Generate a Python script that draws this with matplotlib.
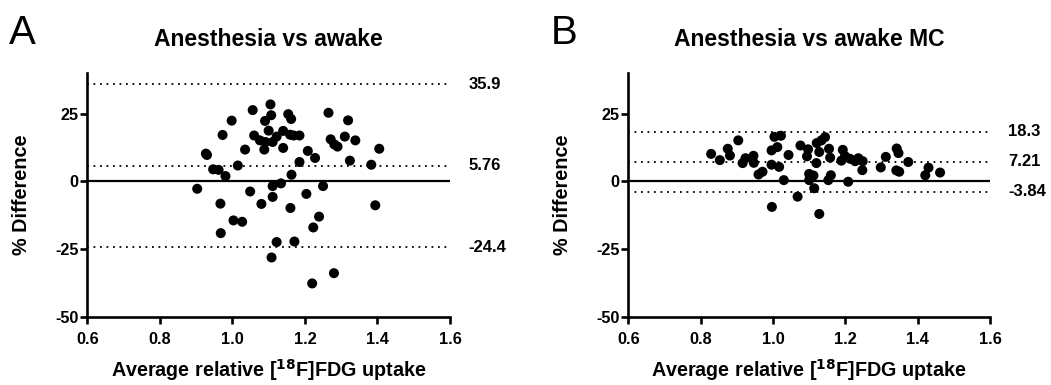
import matplotlib
matplotlib.use("Agg")
import matplotlib.pyplot as plt

plt.rcParams['font.family'] = ['Liberation Sans', 'DejaVu Sans']

# Panel A: Anesthesia vs awake
a_x = [0.903, 0.927, 0.930, 0.947, 0.962, 0.981, 0.967, 0.973, 0.998, 0.968,
       1.003, 1.027, 1.015, 1.035, 1.049, 1.056, 1.060, 1.080, 1.076, 1.088,
       1.090, 1.100, 1.105, 1.107, 1.111, 1.111, 1.111, 1.108, 1.122, 1.122,
       1.134, 1.140, 1.140, 1.154, 1.162, 1.159, 1.169, 1.185, 1.163, 1.160,
       1.171, 1.185, 1.204, 1.208, 1.228, 1.223, 1.220, 1.239, 1.250, 1.265,
       1.271, 1.281, 1.290, 1.280, 1.310, 1.319, 1.324, 1.339, 1.383, 1.394,
       1.405, 1.091]
a_y = [-2.7, 10.3, 9.8, 4.5, 4.3, 2.0, -8.2, 17.2, 22.5, -19.1,
       -14.4, -14.9, 5.9, 11.8, -3.7, 26.4, 17.0, -8.3, 15.2, 11.8,
       22.4, 18.8, 28.5, 24.5, 14.6, -1.7, -5.7, -28.1, -22.4, 16.6,
       -0.7, 18.7, 12.4, 24.9, 23.1, 17.3, 17.0, 17.0, 2.5, -9.8,
       -22.2, 7.2, -4.6, 11.3, 8.7, -17.0, -37.7, -13.0, -1.7, 25.4,
       15.6, 13.7, 12.9, -33.9, 16.6, 22.6, 7.7, 15.2, 6.2, -8.8,
       12.1, 14.6]
a_lines = [35.9, 5.76, -24.4]
a_labels = ["35.9", "5.76", "-24.4"]

# Panel B: Anesthesia vs awake MC
b_x = [0.829, 0.853, 0.875, 0.881, 0.904, 0.916, 0.924, 0.946, 0.947, 0.960,
       0.971, 0.996, 0.997, 0.996, 1.004, 1.012, 1.017, 1.022, 1.030, 1.043,
       1.068, 1.076, 1.094, 1.097, 1.100, 1.100, 1.112, 1.114, 1.120, 1.121,
       1.128, 1.128, 1.144, 1.134, 1.155, 1.158, 1.160, 1.153, 1.193, 1.189,
       1.199, 1.208, 1.213, 1.227, 1.236, 1.247, 1.248, 1.298, 1.312, 1.342,
       1.347, 1.341, 1.349, 1.374, 1.421, 1.430, 1.462]
b_y = [10.2, 7.9, 12.1, 9.6, 15.2, 6.8, 8.6, 9.5, 6.9, 2.6,
       3.6, 11.5, -9.4, 6.2, 16.5, 12.7, 5.4, 16.9, 0.5, 9.8,
       -5.6, 13.3, 9.3, 11.9, 2.8, 0.5, 2.2, -2.5, 6.8, 14.2,
       10.9, -12.0, 16.4, 15.2, 12.1, 8.8, 2.3, 0.5, 11.7, 7.7,
       9.4, -0.1, 8.4, 7.5, 8.6, 4.2, 7.5, 5.2, 9.1, 12.2,
       10.5, 4.1, 3.6, 7.2, 2.3, 5.1, 3.3]
b_lines = [18.3, 7.21, -3.84]
b_labels = ["18.3", "7.21", "-3.84"]

x_ticks = [0.6, 0.8, 1.0, 1.2, 1.4, 1.6]
x_ticklabels = ["0.6", "0.8", "1.0", "1.2", "1.4", "1.6"]
y_ticks = [-50, -25, 0, 25]
y_ticklabels = ["-50", "-25", "0", "25"]

W, H = 1051, 385
fig = plt.figure(figsize=(W / 100, H / 100), dpi=100)

panels = [
    (87.3, 450.0, "A", "Anesthesia vs awake", a_x, a_y, a_lines, a_labels),
    (628.3, 990.0, "B", "Anesthesia vs awake MC", b_x, b_y, b_lines, b_labels),
]
top_px, bot_px = 73.3, 316.7
aw = None

for (l, r, letter, title, xs, ys, lines, labels) in panels:
    aw = r - l
    ah = bot_px - top_px
    ax = fig.add_axes([l / W, 1 - bot_px / H, aw / W, ah / H])
    ax.set_xlim(0.6, 1.6)
    ax.set_ylim(-50, 40)
    for sp in ['top', 'right']:
        ax.spines[sp].set_visible(False)
    for sp in ['left', 'bottom']:
        ax.spines[sp].set_linewidth(1.9)
    ax.set_xticks(x_ticks)
    ax.set_xticklabels(x_ticklabels, fontweight='bold')
    ax.set_yticks(y_ticks)
    ax.set_yticklabels(y_ticklabels, fontweight='bold')
    ax.tick_params(axis='both', direction='out', length=5, width=1.9,
                   labelsize=11.7)
    ax.tick_params(axis='x', pad=6)
    ax.tick_params(axis='y', pad=1.5)
    ax.axhline(0, color='black', lw=1.6, zorder=1)
    for v, lab in zip(lines, labels):
        ax.plot([0.6, 1.6], [v, v], color='black', lw=1.3,
                linestyle=(0, (1, 2.6)), zorder=1, clip_on=False)
        ax.text(1.65, v, lab, fontsize=12, fontweight='bold',
                ha='left', va='center', clip_on=False)
    ax.scatter(xs, ys, s=52, color='black', edgecolors='none', zorder=3,
               clip_on=False)
    ax.set_xlabel("Average relative [$^{\\mathbf{18}}$F]FDG uptake",
                  fontsize=14.2, fontweight='bold')
    ax.xaxis.set_label_coords(0.5, (316.7 - 357) / ah)
    ax.set_ylabel("% Difference", fontsize=14.3, fontweight='bold')
    ax.yaxis.set_label_coords((31 - 87.3) / aw, 0.5)
    ax.set_title(title, fontsize=16.5, fontweight='bold', pad=20)
    fig.text((l - 78) / W, 1 - 44 / H, letter, fontsize=29,
             ha='left', va='baseline')

fig.savefig("out.png", dpi=100)
